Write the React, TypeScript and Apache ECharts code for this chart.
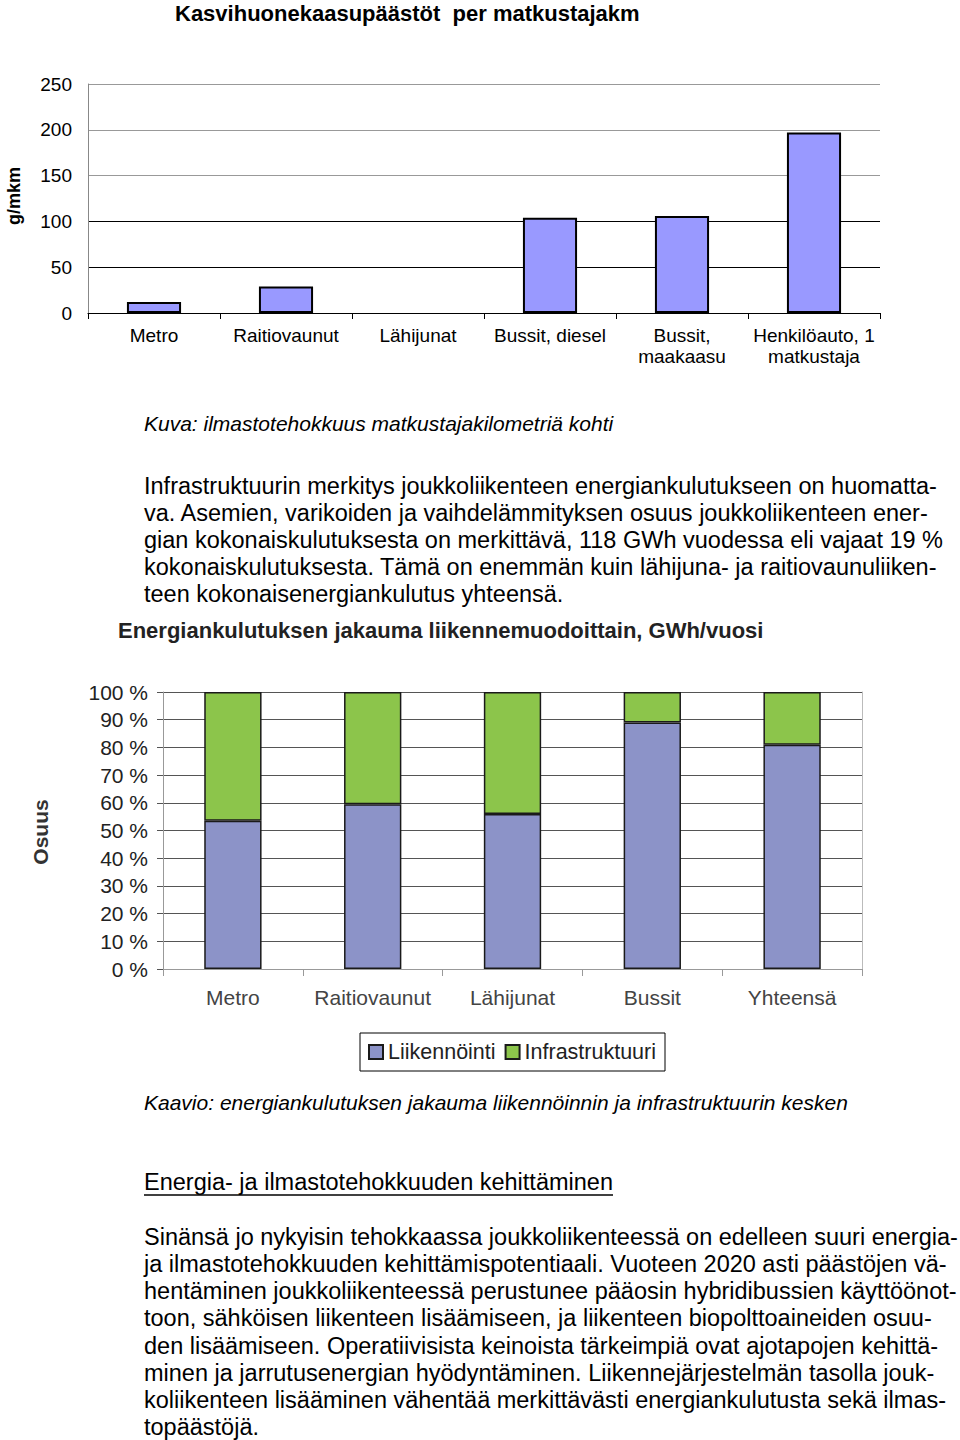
import React, { useEffect, useRef } from "react";
import * as echarts from "echarts";

// ---------- data ----------
const emissionCategories = [
  "Metro",
  "Raitiovaunut",
  "Lähijunat",
  "Bussit, diesel",
  "Bussit,\nmaakaasu",
  "Henkilöauto, 1\nmatkustaja",
];
const emissionValues = [12, 29, 0, 104, 106, 197]; // g/mkm
const emissionAxis = { min: 0, max: 250, interval: 50 };

const shareCategories = ["Metro", "Raitiovaunut", "Lähijunat", "Bussit", "Yhteensä"];
const operationShare = [53.5, 59.5, 56, 89, 81]; // Liikennöinti %
const infraShare = [46.5, 40.5, 44, 11, 19]; // Infrastruktuuri %
const shareAxis = { min: 0, max: 100, interval: 10 };

const chart1Title = "Kasvihuonekaasupäästöt  per matkustajakm";
const chart1AxisName = "g/mkm";
const chart2Title = "Energiankulutuksen jakauma liikennemuodoittain, GWh/vuosi";
const chart2AxisName = "Osuus";
const seriesNames = ["Liikennöinti", "Infrastruktuuri"];

const caption1 = "Kuva: ilmastotehokkuus matkustajakilometriä kohti";
const paragraph1 = [
  "Infrastruktuurin merkitys joukkoliikenteen energiankulutukseen on huomatta-",
  "va. Asemien, varikoiden ja vaihdelämmityksen osuus joukkoliikenteen ener-",
  "gian kokonaiskulutuksesta on merkittävä, 118 GWh vuodessa eli vajaat 19 %",
  "kokonaiskulutuksesta. Tämä on enemmän kuin lähijuna- ja raitiovaunuliiken-",
  "teen kokonaisenergiankulutus yhteensä.",
];
const caption2 = "Kaavio: energiankulutuksen jakauma liikennöinnin ja infrastruktuurin kesken";
const heading2 = "Energia- ja ilmastotehokkuuden kehittäminen";
const paragraph2 = [
  "Sinänsä jo nykyisin tehokkaassa joukkoliikenteessä on edelleen suuri energia-",
  "ja ilmastotehokkuuden kehittämispotentiaali. Vuoteen 2020 asti päästöjen vä-",
  "hentäminen joukkoliikenteessä perustunee pääosin hybridibussien käyttöönot-",
  "toon, sähköisen liikenteen lisäämiseen, ja liikenteen biopolttoaineiden osuu-",
  "den lisäämiseen. Operatiivisista keinoista tärkeimpiä ovat ajotapojen kehittä-",
  "minen ja jarrutusenergian hyödyntäminen. Liikennejärjestelmän tasolla jouk-",
  "koliikenteen lisääminen vähentää merkittävästi energiankulutusta sekä ilmas-",
  "topäästöjä.",
];

const FONT = '"Liberation Sans", Arial, Helvetica, sans-serif';
const BODY_SIZE = 23.5;

function textEl(text: string, x: number, y: number, size: number, opts: any = {}) {
  return {
    type: "text",
    x,
    y,
    rotation: opts.rotation || 0,
    style: {
      text,
      fontFamily: FONT,
      fontSize: size,
      fontWeight: opts.bold ? "bold" : "normal",
      fontStyle: opts.italic ? "italic" : "normal",
      fill: opts.color || "#000",
      textAlign: opts.align || "left",
      textVerticalAlign: "middle",
    },
  };
}

export default function App() {
  const ref = useRef<HTMLDivElement>(null);

  useEffect(() => {
    if (!ref.current) return;
    const chart = echarts.init(ref.current, null, { renderer: "svg" });

    const graphics: any[] = [];
    graphics.push(textEl(chart1Title, 175, 13, 22, { bold: true }));
    graphics.push(textEl(chart1AxisName, 14, 196, 18, { bold: true, rotation: Math.PI / 2, align: "center" }));
    graphics.push(textEl(caption1, 144, 423, 21, { italic: true }));
    paragraph1.forEach((line, i) => graphics.push(textEl(line, 144, 486 + i * 27.1, BODY_SIZE)));
    graphics.push(textEl(chart2Title, 118, 630, 22, { bold: true, color: "#222" }));
    graphics.push(textEl(chart2AxisName, 40, 832, 21, { bold: true, rotation: Math.PI / 2, align: "center", color: "#333" }));
    graphics.push(textEl(caption2, 144, 1102, 21, { italic: true }));
    graphics.push(textEl(heading2, 144, 1182, BODY_SIZE));
    graphics.push({
      type: "line",
      shape: { x1: 144, y1: 1195, x2: 613, y2: 1195 },
      style: { stroke: "#000", lineWidth: 1.5 },
    });
    paragraph2.forEach((line, i) => graphics.push(textEl(line, 144, 1237 + i * 27.15, BODY_SIZE)));

    const emissionData = emissionValues.map((v) =>
      v === 0 ? { value: v, itemStyle: { borderWidth: 0 } } : v
    );

    chart.setOption({
      animation: false,
      backgroundColor: "#fff",
      textStyle: { fontFamily: FONT },
      graphic: graphics,
      legend: {
        data: seriesNames,
        left: 360,
        top: 1033,
        padding: [8, 9, 8, 8],
        itemGap: 9,
        itemWidth: 14,
        itemHeight: 14,
        icon: "rect",
        borderColor: "#000",
        borderWidth: 1,
        textStyle: { fontFamily: FONT, fontSize: 21.5, color: "#222" },
      },
      grid: [
        { left: 88, top: 84, width: 792, height: 229 },
        { left: 163, top: 692, width: 699, height: 277 },
      ],
      xAxis: [
        {
          type: "category",
          gridIndex: 0,
          data: emissionCategories,
          axisLine: { lineStyle: { color: "#000", width: 1.2 } },
          axisTick: { show: true, length: 6, lineStyle: { color: "#000" } },
          axisLabel: {
            interval: 0,
            margin: 12,
            fontFamily: FONT,
            fontSize: 19,
            lineHeight: 21,
            color: "#000",
          },
        },
        {
          type: "category",
          gridIndex: 1,
          data: shareCategories,
          axisLine: { lineStyle: { color: "#999" } },
          axisTick: { show: true, length: 7, lineStyle: { color: "#999" } },
          axisLabel: {
            interval: 0,
            margin: 18,
            fontFamily: FONT,
            fontSize: 21,
            color: "#444",
          },
        },
      ],
      yAxis: [
        {
          type: "value",
          gridIndex: 0,
          min: emissionAxis.min,
          max: emissionAxis.max,
          interval: emissionAxis.interval,
          axisLine: { show: true, lineStyle: { color: "#888" } },
          axisTick: { show: false },
          axisLabel: { margin: 16, fontFamily: FONT, fontSize: 19, color: "#000" },
          splitLine: {
            show: true,
            lineStyle: { color: ["#000", "#000", "#000", "#999", "#999", "#999"], width: 1 },
          },
        },
        {
          type: "value",
          gridIndex: 1,
          min: shareAxis.min,
          max: shareAxis.max,
          interval: shareAxis.interval,
          axisLine: { show: true, lineStyle: { color: "#999" } },
          axisTick: { show: true, length: 6, lineStyle: { color: "#555" } },
          axisLabel: {
            margin: 15,
            fontFamily: FONT,
            fontSize: 21,
            color: "#222",
            formatter: "{value} %",
          },
          splitLine: { show: true, lineStyle: { color: "#555", width: 1 } },
        },
        {
          type: "value",
          gridIndex: 1,
          position: "right",
          min: shareAxis.min,
          max: shareAxis.max,
          axisLine: { show: true, lineStyle: { color: "#bbb" } },
          axisTick: { show: false },
          axisLabel: { show: false },
          splitLine: { show: false },
        },
      ],
      series: [
        {
          type: "bar",
          name: "Päästöt",
          xAxisIndex: 0,
          yAxisIndex: 0,
          data: emissionData,
          barWidth: "41%",
          itemStyle: { color: "#9999FF", borderColor: "#000", borderWidth: 2 },
        },
        {
          type: "bar",
          name: seriesNames[0],
          xAxisIndex: 1,
          yAxisIndex: 1,
          stack: "share",
          data: operationShare,
          barWidth: "41%",
          itemStyle: { color: "#8C93C8", borderColor: "#1a1a1a", borderWidth: 1.5 },
        },
        {
          type: "bar",
          name: seriesNames[1],
          xAxisIndex: 1,
          yAxisIndex: 1,
          stack: "share",
          data: infraShare,
          barWidth: "41%",
          itemStyle: { color: "#8CC54B", borderColor: "#1a1a1a", borderWidth: 1.5 },
        },
      ],
    });

    return () => chart.dispose();
  }, []);

  return (
    <div
      ref={ref}
      style={{ position: "absolute", left: 0, top: 0, width: 960, height: 1440, background: "#fff" }}
    />
  );
}
